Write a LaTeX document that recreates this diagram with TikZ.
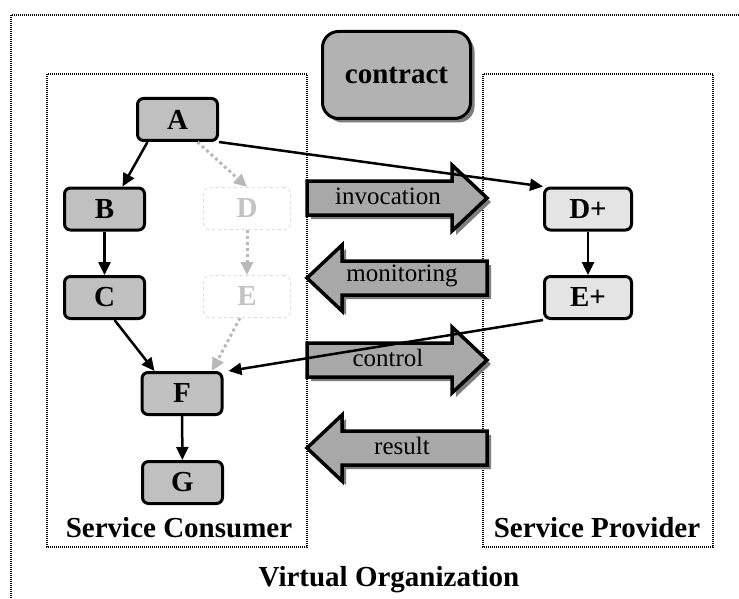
\documentclass[tikz,border=0pt]{standalone}
\usepackage{fontspec}
\setmainfont{Liberation Serif}
\usetikzlibrary{arrows.meta,shadows,calc}

\definecolor{taskgray}{RGB}{192,192,192}
\definecolor{remotegray}{RGB}{228,228,228}
\definecolor{contractgray}{RGB}{178,178,178}
\definecolor{pipegray}{RGB}{168,168,168}
\definecolor{shadowgray}{RGB}{125,125,125}
\definecolor{ghostline}{RGB}{222,222,222}
\definecolor{ghosttext}{RGB}{195,195,195}
\definecolor{ghostflow}{RGB}{185,185,185}

\tikzset{
  big/.style={font=\bfseries\fontsize{29}{30}\selectfont},
  task/.style={big, draw, line width=3pt, rounded corners=6pt, fill=taskgray,
    minimum width=80pt, minimum height=42pt, inner sep=0pt},
  ghost/.style={big, draw=ghostline, dashed, line width=1pt, rounded corners=6pt,
    text=ghosttext, minimum width=87pt, minimum height=42pt, inner sep=0pt},
  pipe/.style={draw, line width=3.5pt, fill=pipegray, line join=miter,
    drop shadow={shadow xshift=4pt, shadow yshift=-4pt, fill=shadowgray, opacity=1}},
  pipelabel/.style={font=\fontsize{25}{26}\selectfont},
  realm/.style={line width=1.2pt, dash pattern=on 1pt off 1pt},
}

\begin{document}
\begin{tikzpicture}[x=1pt,y=-1pt]
\useasboundingbox (0,0) rectangle (739,599);

% organisation and the two parties
\draw[realm] (739,15) -- (11,15) -- (11,599);
\draw[realm] (47,74) rectangle (307,547);
\draw[realm] (483,74) rectangle (713,547);
\node[big] (consumer) at (179,528) {Service Consumer};
\node[big] (provider) at (597,528) {Service Provider};
\node[big] (vo) at (389,580) {Virtual Organization};

\node[big, draw, line width=3pt, rounded corners=16pt, fill=contractgray,
  minimum width=148pt, minimum height=87pt,
  drop shadow={shadow xshift=4pt, shadow yshift=-4pt, fill=shadowgray, opacity=1}]
  (contract) at (396.5,75) {contract};

% interaction pipes
\draw[pipe] (307,181) -- (452,181) -- (452,165) -- (487,198) -- (452,231) -- (452,215) -- (307,215) -- cycle;
\draw[pipe] (487,261) -- (342,261) -- (342,245) -- (307,278) -- (342,311) -- (342,295) -- (487,295) -- cycle;
\draw[pipe] (307,343) -- (452,343) -- (452,327) -- (487,360) -- (452,393) -- (452,377) -- (307,377) -- cycle;
\draw[pipe] (487,431) -- (342,431) -- (342,415) -- (307,448) -- (342,481) -- (342,465) -- (487,465) -- cycle;
\node[pipelabel] (invocation) at (388,196) {invocation};
\node[pipelabel] (monitoring) at (402,276) {monitoring};
\node[pipelabel] (control) at (388,358) {control};
\node[pipelabel] (result) at (402,446) {result};

\begin{scope}[every node/.style={task}]
  \node (a) at (177.5,119.5) {A};
  \node (b) at (104.5,209) {B};
  \node (c) at (104.5,297.5) {C};
  \node (f) at (182,393.5) {F};
  \node (g) at (182.5,482.5) {G};
  \node[fill=remotegray, minimum width=87pt] (dplus) at (588,209) {D+};
  \node[fill=remotegray, minimum width=87pt] (eplus) at (588,297.5) {E+};
\end{scope}
\node[ghost] (d) at (247,208.5) {D};
\node[ghost] (e) at (247,296.5) {E};

\begin{scope}[>={Triangle[length=13pt,width=12pt]},
  every edge/.style={draw, line width=2.5pt}]
  \path[->] ($(a.south)+(-30,0)$) edge ($(b.north)+(18,0)$);
  \path[->] (b) edge (c);
  \path[->] ($(c.south)+(10,0)$) edge ($(f.north west)+(14,0)$);
  \path[->] (f) edge (g);
  \path[->] (a.south east) edge (dplus.north west);
  \path[->] (dplus) edge (eplus);
  \path[->] (eplus.south west) edge ($(f.north east)+(5,0)$);
\end{scope}

\begin{scope}[>={Triangle[length=13pt,width=12pt]},
  every edge/.style={draw=ghostflow, line width=3pt, dash pattern=on 3pt off 3pt}]
  \path[->] ($(a.south)+(20,0)$) edge (d.north);
  \path[->] (d) edge (e);
  \path[->] ($(e.south)+(-7,0)$) edge ($(f.north)+(30,0)$);
\end{scope}
\end{tikzpicture}
\end{document}
